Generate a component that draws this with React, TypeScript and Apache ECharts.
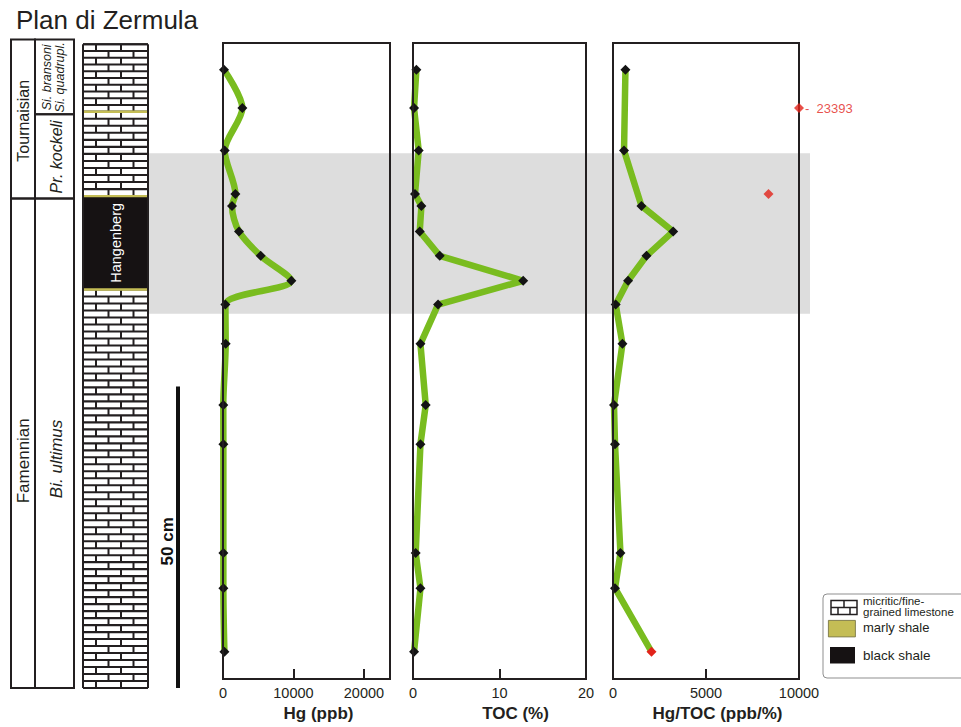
import React, { useEffect, useRef } from 'react';
import * as echarts from 'echarts';

// ---------- data (heights in cm above the base of the section) ----------
const heights = [102.5, 96.05, 88.9, 81.6, 79.6, 75.3, 71.2, 67.0, 63.0, 56.4, 46.1, 39.5, 21.2, 15.3, 4.6];
const hgPpb = [140, 2750, 240, 1760, 1280, 2270, 5350, 9700, 340, 380, 40, 50, 50, 50, 200];
const tocPct = [0.39, 0.12, 0.66, 0.23, 0.97, 0.78, 3.09, 12.74, 2.9, 0.86, 1.47, 0.86, 0.31, 0.86, 0.12];
const hgToc = [669, 23393, 593, 8360, 1530, 3236, 1800, 810, 146, 507, 54, 108, 400, 108, 2070];
const lowTocFlag = [false, true, false, true, false, false, false, false, false, false, false, false, false, false, true];
const onTrend = [true, false, true, false, true, true, true, true, true, true, true, true, true, true, true];

const hgAxis = { min: 0, max: 23700, interval: 10000 };
const tocAxis = { min: 0, max: 20, interval: 10 };
const ratioAxis = { min: 0, max: 10000, interval: 5000 };
const heightAxis = { min: 0, max: 107 };

const grayBand = [62.1, 88.7];
const stages = [
  { name: 'Tournaisian', top: 107.6, base: 81.2, labelAt: 94.1 },
  { name: 'Famennian', top: 81.2, base: 0, labelAt: 37.7 },
];
const zones = [
  { name: 'Si. bransoni\nSi. quadrupl.', top: 107.6, base: 95.2, labelAt: 101.3 },
  { name: 'Pr. kockeli', top: 95.2, base: 81.2, labelAt: 88.1 },
  { name: 'Bi. ultimus', top: 81.2, base: 0, labelAt: 38.0 },
];
const lithology = [
  { type: 'limestone', top: 106.8, base: 95.6, label: '' },
  { type: 'limestone', top: 95.6, base: 81.6, label: '' },
  { type: 'black', top: 81.6, base: 66.1, label: 'Hangenberg' },
  { type: 'limestone', top: 66.1, base: 0, label: '' },
];
const marlyBeds = [95.6, 81.6, 66.1];
const scaleBarCm = 50;

// ---------- styles ----------
const FONT = "'Liberation Sans', Arial, sans-serif";
const INK = '#231f20';
const GREEN = '#79bc1f';
const RED = '#e2231a';
const GRAY = '#dddddd';
const MARLY = '#c4bd55';
const BLACK_SHALE = '#161213';

// strat-column layout (x units = px from the strat grid's left edge)
const L = { stage: [0, 24], zone: [24, 63], litho: [72, 137], bar: 167, barLabel: 156 };
const ROW = 7.0;

function stratRender(_params: any, api: any) {
  const X = (u: number) => api.coord([u, 0])[0];
  const Y = (h: number) => api.coord([0, h])[1];
  const children: any[] = [];
  const line = (x1: number, y1: number, x2: number, y2: number, w: number, c = INK) =>
    children.push({ type: 'line', shape: { x1, y1, x2, y2 }, style: { stroke: c, lineWidth: w } });

  // lithology column
  const lx0 = X(L.litho[0]);
  const lx1 = X(L.litho[1]);
  lithology.forEach((u) => {
    const y0 = Y(u.top);
    const y1 = Y(u.base);
    if (u.type === 'black') {
      children.push({ type: 'rect', shape: { x: lx0, y: y0, width: lx1 - lx0, height: y1 - y0 }, style: { fill: BLACK_SHALE } });
      children.push({
        type: 'text', x: (lx0 + lx1) / 2, y: (y0 + y1) / 2, rotation: Math.PI / 2,
        style: { text: u.label, fill: '#ffffff', fontSize: 14.5, fontFamily: FONT, align: 'center', verticalAlign: 'middle' },
      });
    } else {
      children.push({ type: 'rect', shape: { x: lx0, y: y0, width: lx1 - lx0, height: y1 - y0 }, style: { fill: '#ffffff' } });
      const n = Math.max(1, Math.round((y1 - y0) / ROW));
      const rh = (y1 - y0) / n;
      for (let i = 0; i <= n; i++) line(lx0, y0 + i * rh, lx1, y0 + i * rh, 2.1);
      for (let i = 0; i < n; i++) {
        const ya = y0 + i * rh;
        const offs = i % 2 === 0 ? [13, 38] : [25.5, 50.5];
        offs.forEach((o) => line(lx0 + o, ya, lx0 + o, ya + rh, 2));
      }
    }
  });
  marlyBeds.forEach((h) => line(lx0, Y(h), lx1, Y(h), 2.4, MARLY));
  line(lx0, Y(lithology[0].top), lx0, Y(0), 2);
  line(lx1, Y(lithology[0].top), lx1, Y(0), 2);
  line(lx0, Y(lithology[0].top), lx1, Y(lithology[0].top), 2);

  // stage and zone boxes
  const box = (xa: number, xb: number, top: number, base: number) =>
    children.push({
      type: 'rect', shape: { x: X(xa), y: Y(top), width: X(xb) - X(xa), height: Y(base) - Y(top) },
      style: { fill: 'none', stroke: INK, lineWidth: 2 },
    });
  stages.forEach((s) => {
    box(L.stage[0], L.stage[1], s.top, s.base);
    children.push({
      type: 'text', x: (X(L.stage[0]) + X(L.stage[1])) / 2, y: Y(s.labelAt), rotation: Math.PI / 2,
      style: { text: s.name, fill: INK, fontSize: s.name === 'Famennian' ? 17 : 16, fontFamily: FONT, align: 'center', verticalAlign: 'middle' },
    });
  });
  zones.forEach((z) => {
    box(L.zone[0], L.zone[1], z.top, z.base);
    const small = z.name.indexOf('\n') >= 0;
    children.push({
      type: 'text', x: (X(L.zone[0]) + X(L.zone[1])) / 2 + (small ? -1 : 1.5), y: Y(z.labelAt), rotation: Math.PI / 2,
      style: {
        text: z.name, fill: INK, fontSize: small ? 12.5 : z.name === 'Bi. ultimus' ? 17 : 16, lineHeight: small ? 13 : undefined,
        fontStyle: 'italic', fontFamily: FONT, align: 'center', verticalAlign: 'middle',
      },
    });
  });

  // scale bar
  line(X(L.bar), Y(0), X(L.bar), Y(scaleBarCm), 4, '#111111');
  children.push({
    type: 'text', x: X(L.barLabel), y: Y(scaleBarCm / 2) + 4, rotation: Math.PI / 2,
    style: { text: scaleBarCm + ' cm', fill: '#111111', fontSize: 17, fontWeight: 'bold', fontFamily: FONT, align: 'center', verticalAlign: 'middle' },
  });

  return { type: 'group', children };
}

function bandRender(_params: any, api: any) {
  const p0 = api.coord([0, grayBand[1]]);
  const p1 = api.coord([1, grayBand[0]]);
  return { type: 'rect', shape: { x: p0[0], y: p0[1], width: p1[0] - p0[0], height: p1[1] - p0[1] }, style: { fill: GRAY } };
}

function panelGrid(left: number, width: number) {
  return { left, width, top: 43, height: 645, show: true, borderColor: INK, borderWidth: 2, backgroundColor: 'transparent', z: 3 };
}

function valueXAxis(gridIndex: number, ax: any, name: string, padLeft: number, hideMax = false) {
  return {
    type: 'value', gridIndex, min: ax.min, max: ax.max, interval: ax.interval, z: 3,
    axisLine: { show: false },
    axisTick: { show: true, inside: true, length: 10, lineStyle: { color: INK, width: 2 } },
    splitLine: { show: false },
    axisLabel: {
      color: INK, fontSize: 14.5, fontFamily: FONT, margin: 6, showMaxLabel: !hideMax, showMinLabel: true,
      formatter: (v: number) => String(v),
    },
    name, nameLocation: 'middle', nameGap: 21,
    nameTextStyle: { color: INK, fontSize: 17, fontWeight: 'bold', fontFamily: FONT, padding: [0, 0, 0, padLeft] },
  };
}

function hiddenY(gridIndex: number) {
  return { type: 'value', gridIndex, min: heightAxis.min, max: heightAxis.max, show: false, splitLine: { show: false } };
}

const diamond = { symbol: 'diamond', symbolSize: 10, itemStyle: { color: '#141414' } };

export default function App() {
  const ref = useRef<HTMLDivElement>(null);
  useEffect(() => {
    document.body.style.margin = '0';
    const chart = echarts.init(ref.current!, null, { renderer: 'svg' });

    const hgData = heights.map((h, i) => [hgPpb[i], h]);
    const tocData = heights.map((h, i) => [tocPct[i], h]);
    const ratioLine = heights.map((h, i) =>
      onTrend[i]
        ? { value: [hgToc[i], h], itemStyle: lowTocFlag[i] ? { color: RED } : undefined }
        : { value: ['-', h] });
    const ratioOff = heights
      .map((h, i) => ({ i, h }))
      .filter((d) => !onTrend[d.i])
      .map((d) => ({
        value: [Math.min(hgToc[d.i], ratioAxis.max), d.h],
        actual: hgToc[d.i],
        label: { show: hgToc[d.i] > ratioAxis.max },
      }));

    chart.setOption({
      animation: false,
      title: {
        text: 'Plan di Zermula', left: 16, top: 7, padding: 0,
        textStyle: { fontSize: 26, fontWeight: 'normal', color: INK, fontFamily: FONT },
      },
      grid: [
        panelGrid(223, 167),
        panelGrid(413, 173),
        panelGrid(613, 186),
        { left: 11, width: 180, top: 43, height: 645, show: false },
        { left: 148, width: 662, top: 43, height: 645, show: false },
      ],
      xAxis: [
        valueXAxis(0, hgAxis, 'Hg (ppb)', 24, true),
        valueXAxis(1, tocAxis, 'TOC (%)', 32),
        valueXAxis(2, ratioAxis, 'Hg/TOC (ppb/%)', 23),
        { type: 'value', gridIndex: 3, min: 0, max: 180, show: false },
        { type: 'value', gridIndex: 4, min: 0, max: 1, show: false },
      ],
      yAxis: [hiddenY(0), hiddenY(1), hiddenY(2), hiddenY(3), hiddenY(4)],
      series: [
        { type: 'custom', xAxisIndex: 4, yAxisIndex: 4, renderItem: bandRender, data: [[0, 0]], z: 1, silent: true },
        { type: 'custom', xAxisIndex: 3, yAxisIndex: 3, renderItem: stratRender, data: [[0, 0]], z: 2, silent: true },
        {
          type: 'line', xAxisIndex: 0, yAxisIndex: 0, data: hgData, smooth: 0.3, z: 2,
          lineStyle: { color: GREEN, width: 6.5 }, ...diamond,
        },
        {
          type: 'line', xAxisIndex: 1, yAxisIndex: 1, data: tocData, z: 2,
          lineStyle: { color: GREEN, width: 6.5 }, ...diamond,
        },
        {
          type: 'line', xAxisIndex: 2, yAxisIndex: 2, data: ratioLine, connectNulls: true, z: 2,
          lineStyle: { color: GREEN, width: 6.5 }, ...diamond,
        },
        {
          type: 'scatter', xAxisIndex: 2, yAxisIndex: 2, data: ratioOff, z: 5,
          symbol: 'diamond', symbolSize: 10, itemStyle: { color: RED },
          label: {
            position: 'right', distance: 1, color: RED, fontSize: 13, fontFamily: FONT,
            formatter: (p: any) => '-  ' + p.data.actual,
          },
        },
      ],
      graphic: [
        {
          type: 'rect', left: 822.5, top: 593.5, shape: { width: 150, height: 84, r: 4 },
          style: { fill: '#ffffff', stroke: '#8f8f8f', lineWidth: 1 },
        },
        {
          type: 'group', left: 828.5, top: 598,
          children: [
            { type: 'rect', shape: { x: 0, y: 0, width: 26, height: 14 }, style: { fill: '#fff', stroke: INK, lineWidth: 1.5 } },
            { type: 'line', shape: { x1: 0, y1: 7, x2: 26, y2: 7 }, style: { stroke: INK, lineWidth: 1.5 } },
            { type: 'line', shape: { x1: 13, y1: 0, x2: 13, y2: 7 }, style: { stroke: INK, lineWidth: 1.5 } },
            { type: 'line', shape: { x1: 7, y1: 7, x2: 7, y2: 14 }, style: { stroke: INK, lineWidth: 1.5 } },
            { type: 'line', shape: { x1: 19, y1: 7, x2: 19, y2: 14 }, style: { stroke: INK, lineWidth: 1.5 } },
          ],
        },
        {
          type: 'text', left: 863, top: 595,
          style: { text: 'micritic/fine-\ngrained limestone', fill: INK, fontSize: 11.5, lineHeight: 10.5, fontFamily: FONT },
        },
        { type: 'rect', left: 828, top: 620, shape: { width: 27, height: 16.5 }, style: { fill: MARLY, stroke: '#6d6a3a', lineWidth: 0.8 } },
        { type: 'text', left: 863, top: 621, style: { text: 'marly shale', fill: INK, fontSize: 13, fontFamily: FONT } },
        { type: 'rect', left: 830, top: 647, shape: { width: 25, height: 16.5 }, style: { fill: BLACK_SHALE } },
        { type: 'text', left: 863, top: 648, style: { text: 'black shale', fill: INK, fontSize: 13.5, fontFamily: FONT } },
      ],
    });
    return () => chart.dispose();
  }, []);
  return <div ref={ref} style={{ width: 961, height: 727 }} />;
}
